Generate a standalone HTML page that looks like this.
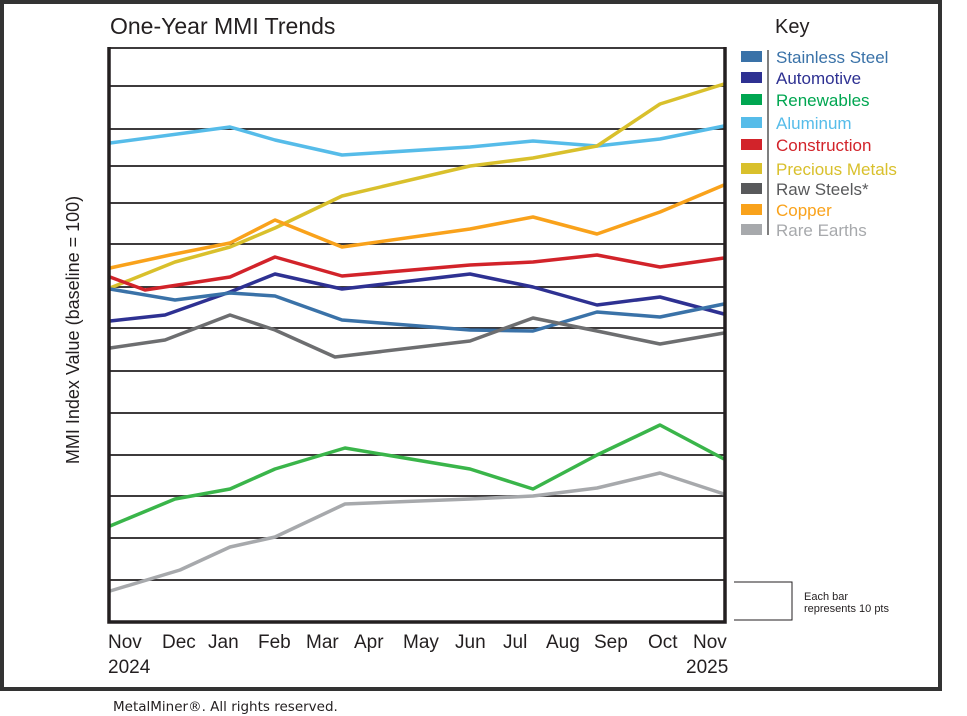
<!DOCTYPE html>
<html><head><meta charset="utf-8"><style>
html,body{margin:0;padding:0;background:#fff;}
svg{display:block}
</style></head><body>
<svg width="967" height="716" xmlns="http://www.w3.org/2000/svg" font-family="Liberation Sans, sans-serif">
<rect x="0" y="0" width="967" height="716" fill="#fff"/>
<rect x="2" y="2" width="938" height="687" fill="none" stroke="#333" stroke-width="4"/>
<text x="110" y="34" font-size="23" fill="#231f20">One-Year MMI Trends</text>
<g stroke="#231f20" stroke-width="1.8">
<line x1="109" y1="48" x2="725" y2="48"/>
<line x1="109" y1="86" x2="725" y2="86"/>
<line x1="109" y1="129" x2="725" y2="129"/>
<line x1="109" y1="166" x2="725" y2="166"/>
<line x1="109" y1="203" x2="725" y2="203"/>
<line x1="109" y1="244" x2="725" y2="244"/>
<line x1="109" y1="287" x2="725" y2="287"/>
<line x1="109" y1="328" x2="725" y2="328"/>
<line x1="109" y1="371" x2="725" y2="371"/>
<line x1="109" y1="413" x2="725" y2="413"/>
<line x1="109" y1="455" x2="725" y2="455"/>
<line x1="109" y1="496" x2="725" y2="496"/>
<line x1="109" y1="538" x2="725" y2="538"/>
<line x1="109" y1="580" x2="725" y2="580"/>
</g>
<g fill="none" stroke-width="3.5" stroke-linejoin="round">
<polyline stroke="#56bce9" points="110,143 230,127 275,140 342,155 470,147 533,141 597,146 660,139 724,126"/>
<polyline stroke="#d9c02c" points="110,288 175,262 230,247 275,228 342,196 470,166 533,158 597,146 660,104 724,84"/>
<polyline stroke="#f9a21b" points="110,268 170,255 230,243 275,220 342,247 470,229 533,217 597,234 660,212 724,185"/>
<polyline stroke="#d2232a" points="110,277 145,290 230,277 275,257 342,276 470,265 533,262 597,255 660,267 724,258"/>
<polyline stroke="#2e3192" points="110,321 165,315 230,292 275,274 342,289 470,274 533,287 597,305 660,297 724,314"/>
<polyline stroke="#3a72a8" points="110,289 175,300 230,293 275,296 342,320 470,330 533,331 597,312 660,317 724,304"/>
<polyline stroke="#6d6e70" points="110,348 165,340 230,315 275,330 335,357 470,341 533,318 597,331 660,344 724,333"/>
<polyline stroke="#3ab54a" points="110,526 175,499 230,489 275,469 345,448 470,469 533,489 597,455 660,425 724,459"/>
<polyline stroke="#a7a9ac" points="110,591 180,570 230,547 275,537 345,504 470,499 533,496 597,488 660,473 724,494"/>
</g>
<polyline fill="none" stroke="#231f20" stroke-width="3.5" points="109,47 109,622 725,622 725,47"/>
<g font-size="19" fill="#231f20">
<text x="108" y="648">Nov</text><text x="162" y="648">Dec</text><text x="208" y="648">Jan</text>
<text x="258" y="648">Feb</text><text x="306" y="648">Mar</text><text x="354" y="648">Apr</text>
<text x="403" y="648">May</text><text x="455" y="648">Jun</text><text x="503" y="648">Jul</text>
<text x="546" y="648">Aug</text><text x="594" y="648">Sep</text><text x="648" y="648">Oct</text>
<text x="693" y="648">Nov</text>
<text x="108" y="673">2024</text><text x="686" y="673">2025</text>
</g>
<text transform="translate(79,330) rotate(-90)" text-anchor="middle" font-size="18" fill="#231f20">MMI Index Value (baseline = 100)</text>
<polyline fill="none" stroke="#231f20" stroke-width="1" points="734,582 792,582 792,620 734,620"/>
<text x="804" y="600" font-size="11" fill="#231f20">Each bar</text>
<text x="804" y="612" font-size="11" fill="#231f20">represents 10 pts</text>
<text x="775" y="33" font-size="20" fill="#231f20">Key</text>
<line x1="768" y1="50" x2="768" y2="235" stroke="#555" stroke-width="1.5"/>
<g font-size="17">
<rect x="741" y="51" width="21" height="11" fill="#3a72a8"/><text x="776" y="63" fill="#3a72a8">Stainless Steel</text>
<rect x="741" y="72" width="21" height="11" fill="#2e3192"/><text x="776" y="84" fill="#2e3192">Automotive</text>
<rect x="741" y="94" width="21" height="11" fill="#00a651"/><text x="776" y="106" fill="#00a651">Renewables</text>
<rect x="741" y="117" width="21" height="11" fill="#56bce9"/><text x="776" y="129" fill="#56bce9">Aluminum</text>
<rect x="741" y="139" width="21" height="11" fill="#d2232a"/><text x="776" y="151" fill="#d2232a">Construction</text>
<rect x="741" y="163" width="21" height="11" fill="#d9c02c"/><text x="776" y="175" fill="#d9c02c">Precious Metals</text>
<rect x="741" y="183" width="21" height="11" fill="#58595b"/><text x="776" y="195" fill="#58595b">Raw Steels*</text>
<rect x="741" y="204" width="21" height="11" fill="#f9a21b"/><text x="776" y="216" fill="#f9a21b">Copper</text>
<rect x="741" y="224" width="21" height="11" fill="#a7a9ac"/><text x="776" y="236" fill="#a7a9ac">Rare Earths</text>
</g>
<text x="113" y="711" font-size="13.5" font-family="DejaVu Sans, sans-serif" fill="#231f20">MetalMiner®. All rights reserved.</text>
</svg>
</body></html>
